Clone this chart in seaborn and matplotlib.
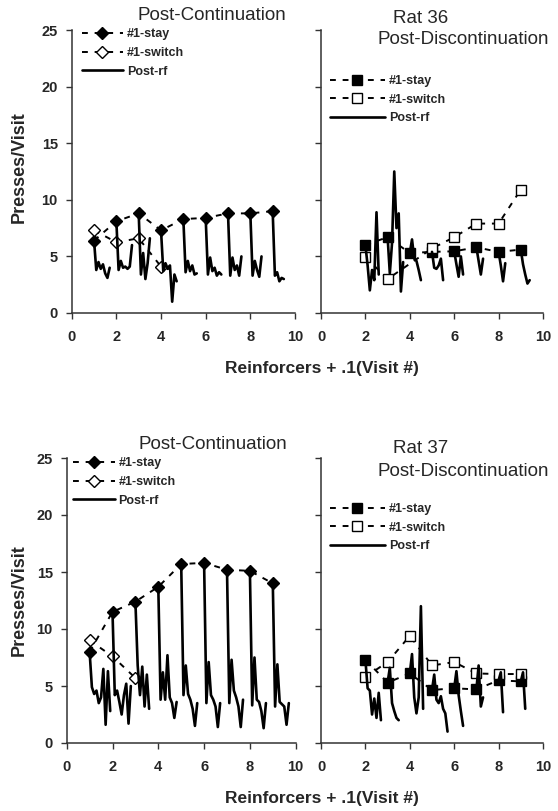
import numpy as np
import pandas as pd
import matplotlib
matplotlib.use("Agg")
import matplotlib.pyplot as plt
import seaborn as sns

nan = np.nan
reinforcers = [1, 2, 3, 4, 5, 6, 7, 8, 9]
x_ticks = [0, 2, 4, 6, 8, 10]
y_ticks = [0, 5, 10, 15, 20, 25]

# ---- Rat 36, Post-Continuation ----
r36c_stay = [6.4, 8.1, 8.8, 7.3, 8.3, 8.4, 8.8, 8.8, 9.0]
r36c_switch = [7.3, 6.25, 6.6, 4.1, nan, nan, nan, nan, nan]
r36c_postrf = [
    [6.4, 3.8, 4.5, 3.9, 4.3, 3.5, 3.1, 4.0],
    [8.1, 3.8, 4.6, 4.0, 4.1, 3.9, 4.1, 6.0],
    [8.8, 3.4, 5.3, 3.0, 4.4, 6.6],
    [7.3, 3.7, 4.4, 3.9, 4.2, 1.0, 3.4, 2.8],
    [8.3, 3.6, 4.6, 3.7, 4.2, 3.4, 3.5],
    [8.4, 3.4, 4.9, 3.7, 4.0, 3.3, 3.6, 3.4],
    [8.8, 3.3, 4.9, 3.8, 4.2, 3.3, 5.0],
    [8.8, 3.3, 4.6, 3.8, 3.2, 5.0],
    [9.0, 3.3, 3.6, 2.8, 3.1, 3.0],
]

# ---- Rat 36, Post-Discontinuation ----
r36d_stay = [nan, 6.0, 6.7, 5.3, 5.4, 5.45, 5.8, 5.4, 5.6]
r36d_switch = [nan, 4.95, 3.0, nan, 5.7, 6.7, 7.9, 7.9, 10.9]
r36d_postrf = [
    [6.0, 4.2, 2.0, 3.8, 2.9, 8.9, 3.4],
    [6.7, 3.5, 6.2, 12.5, 7.5, 8.8, 1.9, 4.5],
    [5.3, 6.5, 4.8, 4.6, 3.8, 2.9],
    [5.4, 4.0, 3.9, 4.2, 4.8, 2.9],
    [5.45, 4.3, 3.2, 5.0, 3.4],
    [5.8, 4.6, 3.4, 4.8],
    [5.4, 4.2, 2.8, 4.4],
    [5.6, 4.3, 3.4, 2.6, 2.9],
]

# ---- Rat 37, Post-Continuation ----
r37c_stay = [8.0, 11.5, 12.4, 13.7, 15.7, 15.8, 15.2, 15.1, 14.0]
r37c_switch = [9.0, 7.6, 5.7, nan, nan, nan, nan, nan, nan]
r37c_postrf = [
    [8.0, 4.9, 4.3, 4.6, 3.5, 4.0, 6.5, 1.6, 6.3, 2.8],
    [11.5, 4.2, 4.6, 3.6, 2.5, 4.2, 5.2, 1.7, 5.0],
    [12.4, 6.8, 4.2, 6.7, 3.2, 6.0, 3.0],
    [13.7, 3.8, 6.2, 3.8, 7.7, 4.0, 3.5, 2.2, 3.6],
    [15.7, 4.2, 6.8, 4.3, 3.8, 3.0, 1.5, 3.5],
    [15.8, 3.5, 7.1, 4.2, 3.8, 3.2, 1.4, 3.5],
    [15.2, 3.5, 7.3, 4.6, 4.0, 3.2, 1.4, 3.8],
    [15.1, 3.3, 7.5, 3.8, 3.6, 2.8, 1.3, 3.5],
    [14.0, 3.2, 6.9, 3.6, 3.4, 3.2, 1.6, 3.5],
]

# ---- Rat 37, Post-Discontinuation ----
r37d_stay = [nan, 7.3, 5.3, 6.1, 4.65, 4.8, 4.7, 5.5, 5.4]
r37d_switch = [nan, 5.8, 7.1, 9.4, 6.8, 7.1, 6.1, 6.05, 6.05]
r37d_postrf = [
    [7.3, 4.8, 4.6, 2.5, 3.9, 2.2, 4.4, 2.0],
    [5.3, 6.6, 3.5, 2.8, 2.2, 2.0],
    [6.1, 7.8, 4.0, 2.6, 4.0, 12.0, 3.0],
    [4.65, 6.0, 3.8, 3.5, 4.1, 3.0, 2.6, 1.0],
    [4.8, 6.3, 4.2, 2.8, 1.5],
    [4.7, 6.8, 3.2, 4.0],
    [5.5, 6.2, 2.7],
    [5.4, 6.2, 3.0],
]

legend_labels = ["#1-stay", "#1-switch", "Post-rf"]
x_label = "Reinforcers + .1(Visit #)"
y_label = "Presses/Visit"

sns.set_style("ticks")
plt.rcParams["font.family"] = ["Liberation Sans", "DejaVu Sans"]

W, H = 558, 811
fig = plt.figure(figsize=(W / 100, H / 100), dpi=100)


def add_ax(x0, x1, ytop, ybot):
    return fig.add_axes([x0 / W, 1 - ybot / H, (x1 - x0) / W, (ybot - ytop) / H])


def post_df(segs, starts):
    rows = []
    for n, seg in zip(starts, segs):
        for k, v in enumerate(seg):
            rows.append({"x": n + 0.1 * k, "y": v, "seg": n})
    return pd.DataFrame(rows)


def draw_panel(ax, stay, switch, postrf, marker, msize, leg_anchor, texts,
               ylabels=True, handlelength=3.3):
    dstay = pd.DataFrame({"x": reinforcers, "y": stay}).dropna()
    dswitch = pd.DataFrame({"x": reinforcers, "y": switch}).dropna()
    starts = reinforcers[-len(postrf):]
    dpost = post_df(postrf, starts)
    dash = (0, (3, 3.5))
    sns.lineplot(data=dstay, x="x", y="y", ax=ax, color="black", lw=1.4,
                 linestyle=dash, marker=marker, markersize=msize,
                 markerfacecolor="black", markeredgecolor="black",
                 markeredgewidth=1.0, label=legend_labels[0], legend=False)
    sns.lineplot(data=dswitch, x="x", y="y", ax=ax, color="black", lw=1.4,
                 linestyle=dash, marker=marker, markersize=msize,
                 markerfacecolor="white", markeredgecolor="black",
                 markeredgewidth=1.0, label=legend_labels[1], legend=False)
    sns.lineplot(data=dpost, x="x", y="y", units="seg", estimator=None,
                 sort=False, ax=ax, color="black", lw=1.9,
                 label=legend_labels[2], legend=False)
    lines = ax.get_lines()
    handles = [lines[0], lines[1], lines[2]]
    ax.legend(handles, legend_labels, loc="upper left",
              bbox_to_anchor=leg_anchor, borderaxespad=0, borderpad=0,
              frameon=False, handlelength=handlelength, handletextpad=0.3,
              labelspacing=0.53, prop={"weight": "bold", "size": 9})
    ax.set_xlim(0, 10)
    ax.set_ylim(0, 25)
    ax.set_xticks(x_ticks)
    ax.set_yticks(y_ticks)
    ax.set_xlabel("")
    ax.set_ylabel("")
    ax.tick_params(axis="both", length=4, width=1, color="#333333",
                   direction="out", labelsize=10.5)
    ax.tick_params(axis="x", pad=8)
    ax.tick_params(axis="y", pad=6, labelleft=ylabels)
    for lab in ax.get_xticklabels() + ax.get_yticklabels():
        lab.set_fontweight("bold")
    for sp in ["left", "bottom"]:
        ax.spines[sp].set_linewidth(1.1)
        ax.spines[sp].set_color("#333333")
    sns.despine(ax=ax)
    for (tx, ty, s) in texts:
        ax.text(tx, ty, s, transform=ax.transAxes, ha="center", va="center",
                fontsize=13.5)


ax_tl = add_ax(71.7, 295, 30, 313)
ax_tr = add_ax(321, 543, 30, 313)
ax_bl = add_ax(66.7, 295.7, 458, 743)
ax_br = add_ax(321, 543, 458, 743)

draw_panel(ax_tl, r36c_stay, r36c_switch, r36c_postrf, "D", 6.5,
           (0.045, 1.006), [(0.627, 1.053, "Post-Continuation")])
draw_panel(ax_tr, r36d_stay, r36d_switch, r36d_postrf, "s", 7,
           (0.04, 0.841), [(0.45, 1.041, "Rat 36"),
                           (0.641, 0.965, "Post-Discontinuation")],
           ylabels=False, handlelength=4.4)
draw_panel(ax_bl, r37c_stay, r37c_switch, r37c_postrf, "D", 6.5,
           (0.029, 1.0025), [(0.637, 1.046, "Post-Continuation")])
draw_panel(ax_br, r37d_stay, r37d_switch, r37d_postrf, "s", 7,
           (0.04, 0.842), [(0.45, 1.034, "Rat 37"),
                           (0.641, 0.952, "Post-Discontinuation")],
           ylabels=False, handlelength=4.4)

fig.text(321.5 / W, 1 - 369 / H, x_label, ha="center", va="center",
         fontsize=12.5, fontweight="bold")
fig.text(321.5 / W, 1 - 798 / H, x_label, ha="center", va="center",
         fontsize=12.5, fontweight="bold")
fig.text(19 / W, 1 - 166.7 / H, y_label, ha="center", va="center",
         rotation=90, fontsize=13, fontweight="bold")
fig.text(19 / W, 1 - 600 / H, y_label, ha="center", va="center",
         rotation=90, fontsize=13, fontweight="bold")

fig.savefig("out.png", dpi=100)
